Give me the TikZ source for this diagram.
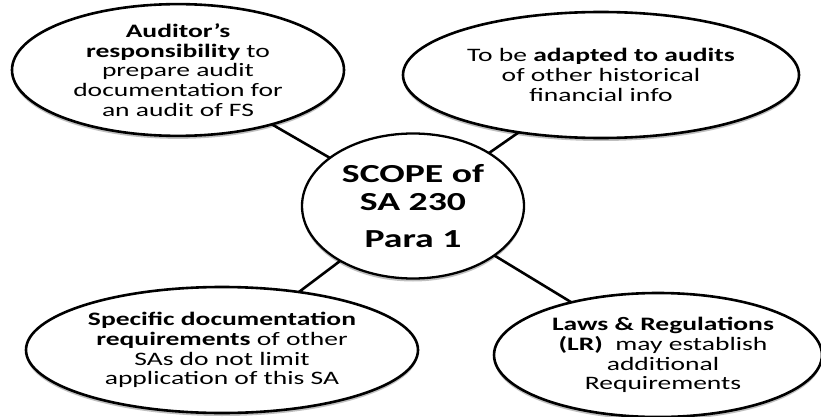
\documentclass[tikz,border=0pt]{standalone}
\usepackage{fontspec}
\setmainfont[FakeStretch=1.45]{Carlito}
\usetikzlibrary{shapes.geometric,shadows,backgrounds}
\begin{document}
\begin{tikzpicture}[x=1pt,y=-1pt,
  bubble/.style={ellipse,draw=black,line width=2.6pt,fill=white,inner sep=0pt,
    align=center,font=\fontsize{19}{19.8}\selectfont,
    drop shadow={shadow xshift=0pt,shadow yshift=-3pt,opacity=0.25,fill=black}},
  hub/.style={bubble,line width=2.3pt,font=\fontsize{26}{28}\selectfont\bfseries},
  link/.style={line width=2.6pt,draw=black}]
\useasboundingbox (0,0) rectangle (821,417);
\node[hub,minimum width=222pt,minimum height=145pt] (c) at (413,206)
  {SCOPE of\\SA 230\\[9pt]Para 1};
\node[bubble,minimum width=332pt,minimum height=126pt] (tl) at (178,70)
  {\textbf{Auditor’s}\\\textbf{responsibility} to\\prepare audit\\documentation for\\an audit of FS};
\node[bubble,minimum width=396pt,minimum height=126pt] (tr) at (601,75)
  {To be \textbf{adapted to audits}\\of other historical\\financial info};
\node[bubble,minimum width=392pt,minimum height=126pt] (bl) at (222,350)
  {\textbf{Specific documentation}\\\textbf{requirements} of other\\SAs do not limit\\application of this SA};
\node[bubble,minimum width=322pt,minimum height=124pt] (br) at (658,355)
  {\hspace*{10pt}\textbf{Laws \& Regulations}\\\hspace*{10pt}\textbf{(LR)}\ \ may establish\\\hspace*{10pt}additional\\\hspace*{10pt}Requirements};
\begin{scope}[on background layer]
\draw[link] (c.center) -- (tl.center);
\draw[link] (c.center) -- (tr.center);
\draw[link] (c.center) -- (bl.center);
\draw[link] (c.center) -- (br.center);
\end{scope}
\end{tikzpicture}
\end{document}
